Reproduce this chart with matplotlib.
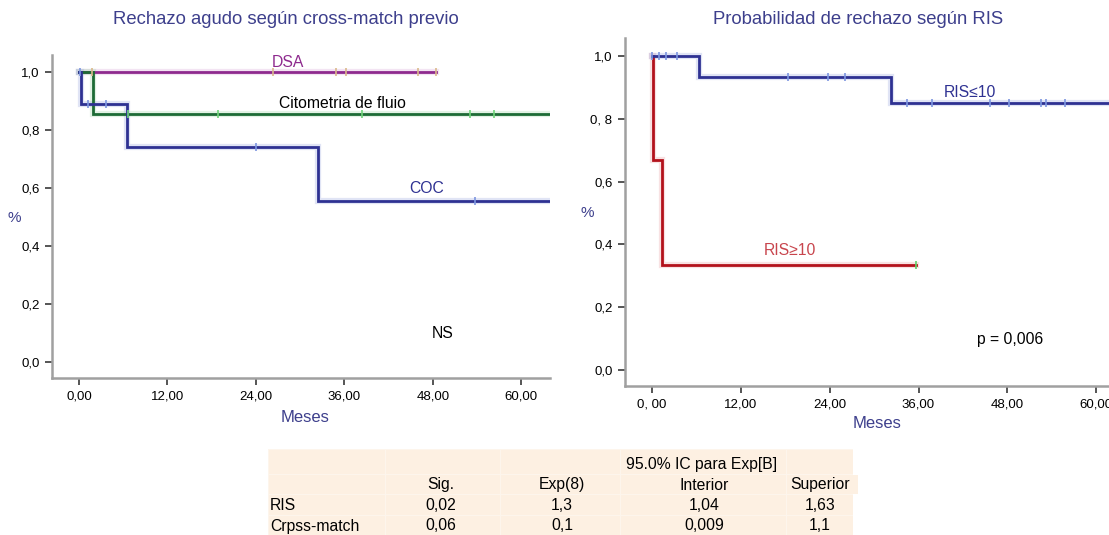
import numpy as np
import matplotlib.pyplot as plt
from matplotlib.patches import Rectangle

plt.rcParams['font.family'] = ['Liberation Sans', 'DejaVu Sans']

# ---------------- data ----------------
# left panel: acute rejection by previous cross-match
coc_t = [0, 0.3, 6.5, 32.4, 64]
coc_s = [1.0, 0.889, 0.741, 0.556, 0.556]
coc_cens = [0.2, 1.2, 3.7, 24.0, 53.7]

cito_t = [0, 1.9, 64]
cito_s = [1.0, 0.857, 0.857]
cito_cens = [6.6, 18.9, 38.4, 53.0, 56.3]

dsa_t = [0, 48.5]
dsa_s = [1.0, 1.0]
dsa_cens = [1.8, 26.3, 34.9, 36.2, 46.0, 48.4]

# right panel: rejection probability by RIS
ris_lo_t = [0, 6.4, 32.3, 64]
ris_lo_s = [1.0, 0.933, 0.85, 0.85]
ris_lo_cens = [0.0, 0.9, 1.9, 3.4, 18.4, 23.8, 26.1, 34.4, 37.8, 45.6, 48.2, 52.6, 53.2, 55.8]

ris_hi_t = [0, 0.1, 1.4, 35.7]
ris_hi_s = [1.0, 0.667, 0.333, 0.333]
ris_hi_cens = [35.7]

left_yticklabels = ['0,0', '0,2', '0,4', '0,6', '0,8', '1,0']
right_yticklabels = ['0,0', '0,2', '0,4', '0,6', '0, 8', '1,0']
left_xticklabels = ['0,00', '12,00', '24,00', '36,00', '48,00', '60,00']
right_xticklabels = ['0, 00', '12,00', '24,00', '36,00', '48,00', '60,00']

tab_cols = ['Sig.', 'Exp(8)', 'Interior', 'Superior']
tab_rows = ['RIS', 'Crpss-match']
tab_vals = [['0,02', '1,3', '1,04', '1,63'],
            ['0,06', '0,1', '0,009', '1,1']]
tab_group = '95.0% IC para Exp[B]'

title_col = '#3d3f8c'
navy = '#2e3192'

# ---------------- helpers ----------------
def surv_at(ts, ss, x):
    i = np.searchsorted(ts, x, side='right') - 1
    return ss[max(i, 0)]

def km(ax, ts, ss, cens, col, halo, cens_col, lw=2.0):
    ax.step(ts, ss, where='post', color=halo, lw=lw + 2.5, alpha=0.3,
            solid_joinstyle='miter', zorder=2)
    ax.step(ts, ss, where='post', color=col, lw=lw, solid_joinstyle='miter', zorder=3)
    ys = [surv_at(ts, ss, c) for c in cens]
    ax.plot(cens, ys, ls='none', marker='|', ms=6, mew=1.2, color=cens_col, zorder=4)

def style(ax, xlabels, ylabels):
    for s in ['top', 'right']:
        ax.spines[s].set_visible(False)
    for s in ['left', 'bottom']:
        ax.spines[s].set_color('#a0a0a0')
        ax.spines[s].set_linewidth(1.8)
    ax.set_xticks([0, 12, 24, 36, 48, 60])
    ax.set_xticklabels(xlabels)
    ax.set_yticks([0, 0.2, 0.4, 0.6, 0.8, 1.0])
    ax.set_yticklabels(ylabels)
    ax.tick_params(direction='out', length=5, width=1.4, color='#555555',
                   labelsize=9.5, pad=4)

W, H = 1109, 535
fig = plt.figure(figsize=(W / 100, H / 100), dpi=100)

def fx(px):
    return px / W

def fy(py):
    return 1 - py / H

lab_fs = 11.3

# left axes
ax1 = fig.add_axes([fx(52), fy(378), fx(550 - 52), (378 - 55) / H])
ax1.set_xlim(-3.66, 63.9)
ax1.set_ylim(-0.055, 1.059)
km(ax1, dsa_t, dsa_s, dsa_cens, '#8e2a8e', '#d8a8d8', '#d9b98a')
km(ax1, cito_t, cito_s, cito_cens, '#1d6b35', '#9fd4a8', '#6fd37a')
km(ax1, coc_t, coc_s, coc_cens, navy, '#9aa6e0', '#7d96e0')
style(ax1, left_xticklabels, left_yticklabels)
ax1.text(28.4, 1.034, 'DSA', color='#8e2a8e', fontsize=lab_fs, ha='center', va='center')
ax1.text(35.7, 0.893, 'Citometria de fluio', color='black', fontsize=lab_fs, ha='center', va='center')
ax1.text(47.2, 0.60, 'COC', color=navy, fontsize=lab_fs, ha='center', va='center')
ax1.text(49.4, 0.097, 'NS', color='black', fontsize=lab_fs, ha='center', va='center')

# right axes
ax2 = fig.add_axes([fx(625), fy(386), fx(1128 - 625), (386 - 38) / H])
ax2.set_xlim(-3.65, 64.3)
ax2.set_ylim(-0.051, 1.057)
km(ax2, ris_hi_t, ris_hi_s, ris_hi_cens, '#b3121c', '#e8a0a4', '#5fd36a')
km(ax2, ris_lo_t, ris_lo_s, ris_lo_cens, navy, '#9aa6e0', '#7d96e0')
style(ax2, right_xticklabels, right_yticklabels)
ax2.text(43.0, 0.885, 'RIS≤10', color=navy, fontsize=lab_fs, ha='center', va='center')
ax2.text(18.6, 0.382, 'RIS≥10', color='#c8454d', fontsize=lab_fs, ha='center', va='center')
ax2.text(48.4, 0.096, 'p = 0,006', color='black', fontsize=lab_fs, ha='center', va='center')

# titles and axis labels
fig.text(fx(286), fy(20), 'Rechazo agudo según cross-match previo', color=title_col,
         fontsize=13.3, ha='center', va='center')
fig.text(fx(858), fy(20), 'Probabilidad de rechazo según RIS', color=title_col,
         fontsize=13.3, ha='center', va='center')
fig.text(fx(14), fy(218), '%', color=title_col, fontsize=11, ha='center', va='center')
fig.text(fx(587), fy(213), '%', color=title_col, fontsize=11, ha='center', va='center')
fig.text(fx(305), fy(418), 'Meses', color=title_col, fontsize=12, ha='center', va='center')
fig.text(fx(877), fy(423), 'Meses', color=title_col, fontsize=12, ha='center', va='center')

# table at the bottom
peach = '#fdf0e2'
gap = '#fdf5ec'
col_edges = [268, 385, 500, 620, 786, 853]
row_edges = [449, 474, 494, 515, 535]
fig.patches.append(Rectangle((fx(268), fy(535)), fx(853 - 268), (535 - 449) / H,
                             transform=fig.transFigure, facecolor=gap,
                             edgecolor='none', zorder=0))
for i in range(len(col_edges) - 1):
    for j in range(len(row_edges) - 1):
        x0, x1 = col_edges[i], col_edges[i + 1]
        if i == len(col_edges) - 2 and j == 1:
            x1 = 858
        y0, y1 = row_edges[j], row_edges[j + 1]
        fig.patches.append(Rectangle((fx(x0 + 0.5), fy(y1 - 0.5)), fx(x1 - x0 - 1),
                                     (y1 - y0 - 1) / H, transform=fig.transFigure,
                                     facecolor=peach, edgecolor='none', zorder=0))

col_x = [441, 562, 704, 820]
fs = 11.3
fig.text(fx(702), fy(465), tab_group, fontsize=fs, ha='center', va='center')
for c, x in zip(tab_cols, col_x):
    fig.text(fx(x), fy(485), c, fontsize=fs, ha='center', va='center')
for r, (name, vals) in enumerate(zip(tab_rows, tab_vals)):
    yy = 506 + r * 20
    fig.text(fx(270), fy(yy), name, fontsize=fs, ha='left', va='center')
    for v, x in zip(vals, col_x):
        fig.text(fx(x), fy(yy), v, fontsize=fs, ha='center', va='center')

fig.savefig('out.png', dpi=100)
